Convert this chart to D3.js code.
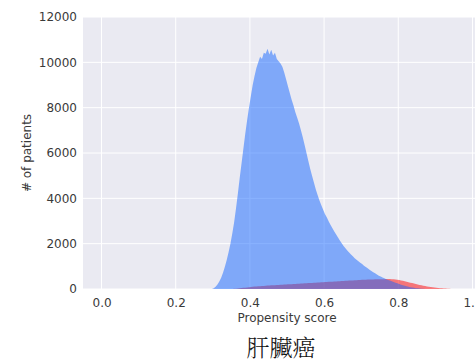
<!DOCTYPE html>
<html>
<head>
<meta charset="utf-8">
<script src="https://cdn.jsdelivr.net/npm/d3@7/dist/d3.min.js"></script>
<style>
  html, body { margin: 0; padding: 0; background: #ffffff; }
  svg { display: block; }
</style>
</head>
<body>
<svg id="chart" width="475" height="363"></svg>
<script>
// ---- data ----
const binWidth = 0.005;
const blueStart = 0.295;
const blueCounts = [
  0, 30, 100, 200, 330, 500, 720, 980, 1280, 1620,
  2000, 2450, 2950, 3550, 4200, 4900, 5550, 6200, 6850, 7450,
  8000, 8500, 9000, 9400, 9750, 10000, 10250, 10150, 10420, 10380,
  10600, 10350, 10550, 10300, 10420, 10150, 10050, 9950, 9800, 9550,
  9250, 8950, 8650, 8350, 8100, 7800, 7550, 7300, 7000, 6700,
  6350, 6000, 5650, 5300, 5000, 4700, 4400, 4150, 3900, 3700,
  3500, 3300, 3150, 2980, 2820, 2680, 2540, 2400, 2270, 2140,
  2020, 1900, 1800, 1700, 1610, 1520, 1440, 1360, 1290, 1220,
  1160, 1100, 1030, 970, 910, 850, 790, 740, 690, 640,
  590, 550, 510, 470, 430, 400, 370, 340, 310, 280,
  250, 220, 190, 165, 140, 120, 100, 80, 65, 50,
  38, 28, 20, 14, 9, 5, 3, 0
];
const redStart = 0.345;
const redCounts = [
  0, 5, 10, 15, 20, 30, 40, 50, 60, 70, 80,
  90, 100, 110, 115, 120, 125, 130, 135, 140, 150,
  155, 160, 165, 170, 175, 180, 185, 190, 195, 200,
  205, 210, 215, 220, 225, 230, 235, 240, 245, 250,
  255, 260, 265, 270, 275, 280, 285, 290, 295, 300,
  305, 310, 315, 320, 325, 330, 335, 340, 345, 350,
  355, 360, 365, 370, 375, 380, 385, 390, 395, 400,
  405, 410, 410, 415, 415, 420, 420, 425, 425, 430,
  430, 435, 435, 440, 440, 440, 435, 430, 420, 410,
  395, 380, 360, 340, 320, 300, 280, 260, 240, 220,
  200, 180, 160, 145, 130, 115, 100, 88, 76, 65,
  55, 45, 37, 30, 23, 17, 12, 8, 4, 2,
  0
];
const xTicks = [0.0, 0.2, 0.4, 0.6, 0.8, 1.0];
const yTicks = [0, 2000, 4000, 6000, 8000, 10000, 12000];
const xLabel = "Propensity score";
const yLabel = "# of patients";
const title = "肝臟癌";

// ---- layout ----
const svg = d3.select("#chart");
const pLeft = 83, pTop = 17, pBottom = 289, pRight = 491;
const x = d3.scaleLinear().domain([-0.05, 1.05]).range([pLeft, pRight]);
const y = d3.scaleLinear().domain([0, 12000]).range([pBottom, pTop]);

const font = "'DejaVu Sans', sans-serif";
const textColor = "#3a3a3a";

svg.append("rect").attr("x", pLeft).attr("y", pTop)
  .attr("width", pRight - pLeft).attr("height", pBottom - pTop)
  .attr("fill", "#eaeaf2");

// grid
svg.append("g").selectAll("line").data(yTicks).join("line")
  .attr("x1", pLeft).attr("x2", pRight)
  .attr("y1", d => y(d)).attr("y2", d => y(d))
  .attr("stroke", "#ffffff").attr("stroke-width", 1);
svg.append("g").selectAll("line").data(xTicks).join("line")
  .attr("x1", d => x(d)).attr("x2", d => x(d))
  .attr("y1", pTop).attr("y2", pBottom)
  .attr("stroke", "#ffffff").attr("stroke-width", 1);

function toPoints(start, counts) {
  return counts.map((c, i) => ({ xc: start + (i + 0.5) * binWidth, c }));
}
const area = d3.area()
  .x(d => x(d.xc))
  .y0(y(0))
  .y1(d => y(d.c))
  .curve(d3.curveLinear);

svg.append("path").datum(toPoints(redStart, redCounts))
  .attr("d", area).attr("fill", "#ff0000").attr("fill-opacity", 0.5);
svg.append("path").datum(toPoints(blueStart, blueCounts))
  .attr("d", area).attr("fill", "#1466ff").attr("fill-opacity", 0.5);

// axes
const yAxis = d3.axisLeft(y).tickValues(yTicks).tickSize(0).tickPadding(6).tickFormat(d3.format("d"));
const gy = svg.append("g").attr("transform", `translate(${pLeft},0)`).call(yAxis);
const xAxis = d3.axisBottom(x).tickValues(xTicks).tickSize(0).tickPadding(9).tickFormat(d3.format(".1f"));
const gx = svg.append("g").attr("transform", `translate(0,${pBottom})`).call(xAxis);
[gx, gy].forEach(g => {
  g.select(".domain").remove();
  g.selectAll("text").attr("font-family", font).attr("font-size", 12).attr("fill", textColor);
});

svg.append("text").attr("x", (pLeft + pRight) / 2).attr("y", 322)
  .attr("text-anchor", "middle").attr("font-family", font).attr("font-size", 12)
  .attr("fill", textColor).text(xLabel);

svg.append("text").attr("transform", `translate(31,${(pTop + pBottom) / 2}) rotate(-90)`)
  .attr("text-anchor", "middle").attr("font-family", font).attr("font-size", 12)
  .attr("fill", textColor).text(yLabel);

svg.append("text").attr("x", 281).attr("y", 356)
  .attr("text-anchor", "middle")
  .attr("font-family", "'Noto Serif CJK TC', 'Noto Sans CJK TC', sans-serif")
  .attr("font-size", 23).attr("font-weight", 300)
  .attr("fill", "#111").text(title);
</script>
</body>
</html>
